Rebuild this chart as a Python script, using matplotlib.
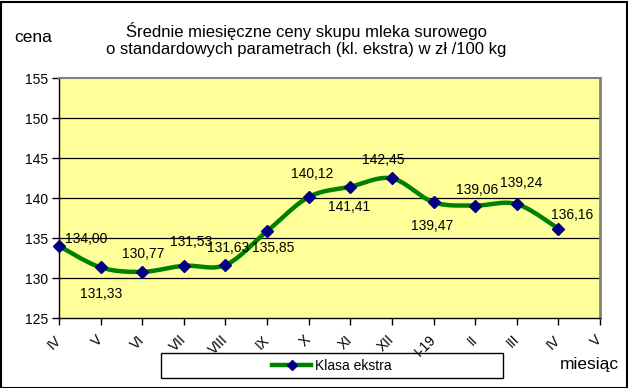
import numpy as np
import matplotlib
matplotlib.use("Agg")
import matplotlib.pyplot as plt
from matplotlib.patches import Rectangle
from matplotlib.lines import Line2D

plt.rcParams['font.family'] = ['Liberation Sans', 'DejaVu Sans']

# ---- data ----
tick_labels = ["IV", "V", "VI", "VII", "VIII", "IX", "X", "XI", "XII", "I-19", "II", "III", "IV", "V"]
values = [134.00, 131.33, 130.77, 131.53, 131.63, 135.85, 140.12, 141.41, 142.45, 139.47, 139.06, 139.24, 136.16]
value_labels = ["134,00", "131,33", "130,77", "131,53", "131,63", "135,85", "140,12",
                "141,41", "142,45", "139,47", "139,06", "139,24", "136,16"]
series_name = "Klasa ekstra"
title = "Średnie miesięczne ceny skupu mleka surowego\no standardowych parametrach (kl. ekstra) w zł /100 kg"

# label offsets in pixels (dx, dy) relative to each point
label_offsets = [(6, 7), (1, -27), (1, 18), (7, 24), (3, 17), (6, -17), (3, 23),
                 (-1, -20), (-9, 18), (-1, -24), (2, 16), (4, 21), (14, 14)]
label_ha = ["left"] + ["center"] * 12

W, H = 628, 388
fig = plt.figure(figsize=(W / 100, H / 100), dpi=100)
fig.patch.set_facecolor("white")

ax = fig.add_axes([59 / W, 1 - 318 / H, 541 / W, 240 / H])
ax.set_facecolor("#FFFF99")

x = np.arange(len(values))
y = np.array(values)

# Excel-like smoothed line (Catmull-Rom Bezier)
def smooth(xp, yp, n=30):
    P = np.column_stack([xp, yp])
    out = [P[0]]
    for i in range(len(P) - 1):
        p0 = P[i - 1] if i > 0 else P[i]
        p1 = P[i]
        p2 = P[i + 1]
        p3 = P[i + 2] if i + 2 < len(P) else P[i + 1]
        c1 = p1 + (p2 - p0) / 6
        c2 = p2 - (p3 - p1) / 6
        t = np.linspace(0, 1, n)[1:, None]
        seg = ((1 - t) ** 3) * p1 + 3 * ((1 - t) ** 2) * t * c1 + 3 * (1 - t) * t ** 2 * c2 + t ** 3 * p2
        out.extend(seg)
    out = np.array(out)
    return out[:, 0], out[:, 1]

sx, sy = smooth(x, y)
ax.plot(sx, sy, color="#008000", lw=3.2, solid_capstyle="round", zorder=3, clip_on=False)
ax.plot(x, y, ls="none", marker="D", ms=6, color="#000080", zorder=4, clip_on=False)

for xi, yi, lab, (dx, dy), ha in zip(x, y, value_labels, label_offsets, label_ha):
    ax.annotate(lab, (xi, yi), xytext=(dx, dy), textcoords="offset pixels",
                ha=ha, va="center", fontsize=10, color="black", zorder=5)

ax.set_xlim(0, len(tick_labels) - 1)
ax.set_ylim(125, 155)
ax.set_yticks(np.arange(125, 156, 5))
ax.set_yticklabels([str(v) for v in range(125, 156, 5)], fontsize=10)
ax.set_xticks(np.arange(len(tick_labels)))
ax.set_xticklabels(tick_labels, rotation=45, ha="right", va="center",
                   rotation_mode="anchor", fontsize=10)
ax.tick_params(axis="x", direction="out", length=5, width=1, pad=9)
ax.tick_params(axis="y", direction="out", length=5, width=1, pad=3)

for v in range(130, 155, 5):
    ax.axhline(v, color="black", lw=0.9, zorder=1)

ax.spines["left"].set_color("black")
ax.spines["bottom"].set_color("black")
ax.spines["top"].set_color("#808080")
ax.spines["right"].set_color("#808080")
ax.spines["top"].set_linewidth(1.5)
ax.spines["right"].set_linewidth(2)
ax.spines["left"].set_linewidth(1)
ax.spines["bottom"].set_linewidth(1)

fig.text(306 / W, 1 - 39.5 / H, title, ha="center", va="center", fontsize=12,
         linespacing=1.1)
fig.text(14 / W, 1 - 37 / H, "cena", ha="left", va="center", fontsize=12.5)
fig.text(589 / W, 1 - 365 / H, "miesiąc", ha="center", va="center", fontsize=12.5)

# legend box
fig.patches.append(Rectangle((161 / W, 1 - 378 / H), (503 - 161) / W, 25 / H,
                             transform=fig.transFigure, fill=False, ec="black", lw=1))
handle = Line2D([], [], color="#008000", lw=3.2, marker="D", ms=5,
                mfc="#000080", mec="#000080")
fig.legend([handle], [series_name], loc="center", bbox_to_anchor=(332 / W, 1 - 365.5 / H),
           frameon=False, fontsize=10, handlelength=2.8, handletextpad=0.3)

# figure border
fig.patches.append(Rectangle((0.5 / W, 0.5 / H), (W - 2) / W, (H - 2) / H,
                             transform=fig.transFigure, fill=False, ec="black", lw=1.5))

fig.savefig("out.png", dpi=100)
